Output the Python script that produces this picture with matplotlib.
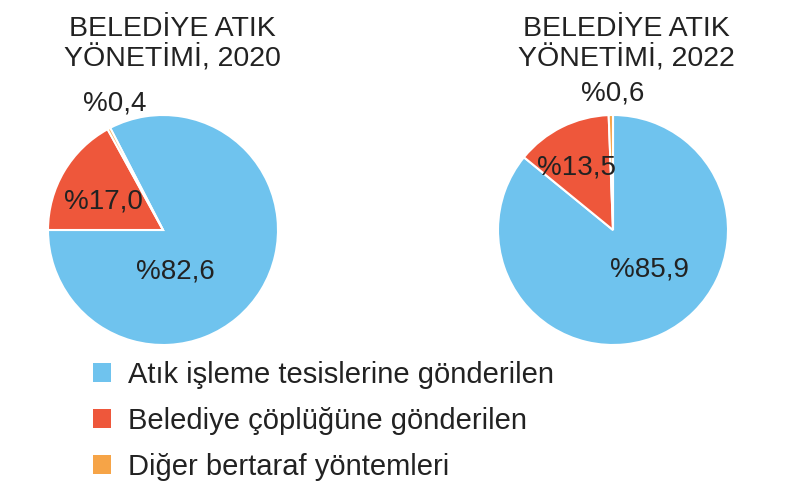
import matplotlib
matplotlib.use("Agg")
import matplotlib.pyplot as plt
from matplotlib.patches import Patch

plt.rcParams['font.family'] = ['Liberation Sans', 'DejaVu Sans']

categories = ["Atık işleme tesislerine gönderilen",
              "Belediye çöplüğüne gönderilen",
              "Diğer bertaraf yöntemleri"]
colors = ["#6fc3ee", "#ee573b", "#f6a447"]

values_2020 = [82.6, 17.0, 0.4]
values_2022 = [85.9, 13.5, 0.6]
labels_2020 = ["%82,6", "%17,0", "%0,4"]
labels_2022 = ["%85,9", "%13,5", "%0,6"]
titles = ["BELEDİYE ATIK\nYÖNETİMİ, 2020", "BELEDİYE ATIK\nYÖNETİMİ, 2022"]

W, H = 801, 498
fig = plt.figure(figsize=(W / 100, H / 100), dpi=100)

R = 115      # pie radius in px
half = 135   # half axes size in px


def pie_axes(cx, cy):
    ax = fig.add_axes([(cx - half) / W, (H - cy - half) / H, 2 * half / W, 2 * half / H])
    return ax


# label positions (relative to pie radius)
pos_2020 = [(0.11, -0.36), (-0.52, 0.25), (-0.42, 1.10)]
pos_2022 = [(0.32, -0.34), (-0.32, 0.54), (0.0, 1.19)]

setups = [
    (163, 230, values_2020, labels_2020, pos_2020, 180 + 3.6 * values_2020[0]),
    (613, 230, values_2022, labels_2022, pos_2022, 90),
]

for (cx, cy, vals, labs, pos, start) in setups:
    ax = pie_axes(cx, cy)
    ax.pie(vals, colors=colors, startangle=start, counterclock=False,
           radius=1, wedgeprops=dict(edgecolor="white", linewidth=1.5))
    lim = half / R
    ax.set_xlim(-lim, lim)
    ax.set_ylim(-lim, lim)
    ax.set_aspect("equal")
    ax.axis("off")
    for lab, (x, y) in zip(labs, pos):
        ax.text(x, y, lab, ha="center", va="center", fontsize=20, color="#222222")

fig.text(172 / W, 1 - 44 / H, titles[0], ha="center", va="center",
         fontsize=20.5, color="#222222", linespacing=1.08)
fig.text(626 / W, 1 - 44 / H, titles[1], ha="center", va="center",
         fontsize=20.5, color="#222222", linespacing=1.08)

handles = [Patch(facecolor=c, edgecolor="none") for c in colors]
fig.legend(handles, categories, loc="upper left", bbox_to_anchor=(93 / W, 1 - 361 / H),
           frameon=False, fontsize=21, borderpad=0, borderaxespad=0,
           handlelength=0.62, handleheight=0.62, handletextpad=0.57,
           labelspacing=0.61, labelcolor="#222222")

fig.savefig("out.png", dpi=100, facecolor="white")
